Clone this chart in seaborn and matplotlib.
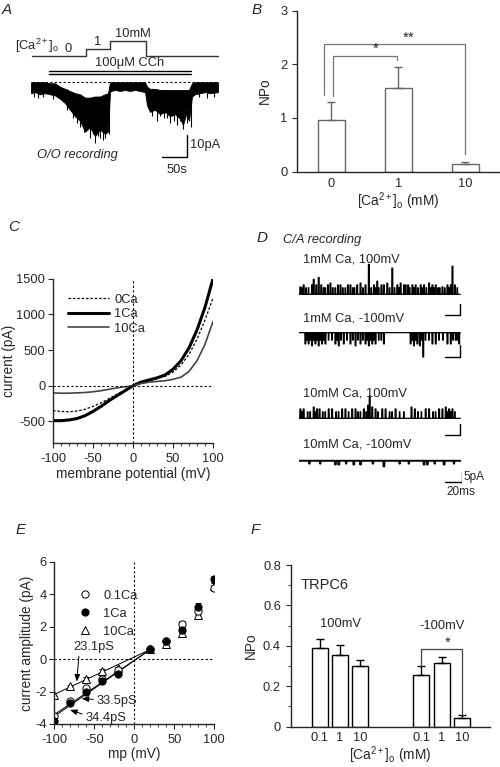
import numpy as np
import pandas as pd
import matplotlib.pyplot as plt
import seaborn as sns
from matplotlib.lines import Line2D

W, H = 500, 767

# ---------- A: O/O recording, Ca steps under carbachol (s, pA) ----------
step_t = [2, 110, 158, 230, 374]
step_lab = ["0", "1", "10mM"]
step_lab_t = [74, 134, 204]
cch_t = [36, 320]
a_t = [0, 8, 18, 28, 38, 48, 58, 68, 78, 88, 98, 108, 118, 128, 138, 148, 154,
       158, 160, 168, 178, 188, 198, 208, 218, 228, 232, 238, 248, 258, 268,
       278, 288, 298, 304, 310, 316, 322, 328, 338, 348, 358, 374]
a_hi = [0.5, 0.5, 0.5, 0.5, 0, 0, -1.5, -2.5, -3.5, -4.5, -5, -6.5, -6.5, -6, -6, -5, -4.5,
        0.5, 0.5, 0.5, 0.5, 0.5, 0.5, 0.5, 0.5, 0.5, -1.5, -2.5, -2.5, -3, -3,
        -3, -3, -3, -3, -3, -3, 0, 0.5, 0.5, 0.5, 0.5, 0.5]
a_lo = [-4.5, -4, -5, -4.5, -5, -5.5, -7, -9, -12, -15, -17, -22, -20, -24, -21, -23, -22,
        -4, -3.5, -3, -3.5, -3, -3.5, -3, -3.5, -4, -10, -13, -12, -14, -13,
        -15, -14, -16, -19, -14, -17, -6, -5, -4.5, -4, -4.5, -4]
# brief downward events sticking out of the band
a_sp_t = [6, 14, 24, 44, 71, 84, 91, 98, 105, 112, 118, 123, 128, 133, 138, 143, 148, 155,
          241, 251, 258, 265, 272, 278, 285, 291, 297, 303, 311, 319, 336, 352, 366]
a_sp = [-6, -6.5, -6, -7, -12, -16, -18, -20, -22, -21, -25, -23, -27, -24, -25, -26, -25, -23,
        -15, -17, -15, -16, -16, -18, -17, -19, -17, -21, -18, -20, -6, -6.5, -6]

# ---------- B: NPo vs [Ca]o ----------
b_ca = ["0", "1", "10"]
b_npo = [0.97, 1.55, 0.14]
b_sem = [0.32, 0.40, 0.035]

# ---------- C: whole-cell I-V ----------
c_mv = [-100, -90, -80, -70, -60, -50, -40, -30, -20, -10, 0,
        10, 20, 30, 40, 50, 60, 70, 80, 90, 100]
c_0ca = [-350, -360, -365, -355, -330, -290, -240, -180, -120, -60, 0,
         40, 70, 100, 130, 190, 290, 440, 650, 920, 1230]
c_1ca = [-490, -490, -480, -460, -420, -360, -290, -210, -140, -70, 0,
         50, 80, 110, 150, 230, 350, 530, 780, 1100, 1500]
c_10ca = [-100, -105, -105, -100, -95, -85, -70, -50, -30, -15, 0,
          30, 50, 60, 70, 90, 120, 200, 350, 580, 900]

# ---------- D: single channel openings (onset ms, amplitude pA) ----------
d_labels = ["1mM Ca, 100mV", "1mM Ca, -100mV", "10mM Ca, 100mV", "10mM Ca, -100mV"]
d_small = [3.5, -4, 3.5, -1.5]    # amplitude of the brief, partly resolved openings
d1_on = [1, 5, 15, 17, 20, 23, 26, 34, 37, 46, 49, 58, 61, 69, 73, 79, 83, 89, 93, 98,
         101, 105, 111, 117, 121, 125, 127, 130, 135, 139, 145, 149, 155, 159, 163,
         171, 177, 181, 183, 186]
d1_amp = [4, 5, 5, 8, 5, 9, 5, 5, 6, 5, 5, 5, 5, 5, 6, 5, 16, 5, 7, 5,
          5, 6, 14, 5, 6, 5, 5, 5, 5, 5, 5, 5, 6, 5, 5,
          4, 5, 5, 15, 5]
d1_more = [3, 8, 11, 29, 31, 40, 43, 52, 55, 64, 66, 76, 86, 91, 95, 108, 114, 119,
           132, 137, 142, 147, 152, 157, 161, 166, 168, 174, 179, 189]
d2_on = [7, 11, 15, 19, 23, 27, 31, 43, 47, 53, 61, 67, 73, 79, 83, 87, 91, 101,
         133, 137, 141, 144, 148, 159, 163, 177, 181, 191]
d2_amp = [-6, -6, -7, -6, -7, -6, -6, -6, -7, -6, -6, -7, -6, -6, -7, -6, -6, -6,
          -6, -7, -6, -7, -13, -6, -6, -6, -6, -6]
d2_more = [9, 13, 17, 21, 25, 29, 35, 39, 45, 50, 57, 64, 70, 76, 81, 85, 89, 95, 98,
           135, 139, 146, 151, 155, 167, 172, 184, 187, 189]
d3_on = [1, 5, 17, 21, 24, 35, 39, 51, 55, 63, 67, 77, 82, 84, 87, 91, 99, 103, 115,
         134, 138, 151, 155, 167, 171, 175, 179, 183]
d3_amp = [5, 5, 6, 5, 5, 5, 5, 5, 5, 5, 5, 5, 7, 12, 6, 5, 5, 5, 5,
          6, 5, 5, 5, 5, 5, 6, 5, 5]
d3_more = [3, 10, 13, 19, 28, 31, 44, 47, 59, 70, 73, 80, 94, 108, 111, 120, 125,
           142, 146, 160, 163, 177, 181, 186]
d4_on = [43, 47, 65, 73, 101, 149, 153, 173]
d4_amp = [-2, -2, -2, -2, -3, -2, -2, -2]
d4_more = [12, 25, 56, 88, 120, 131, 162, 185]

# ---------- E: single channel I-V ----------
e_mv = [-100, -80, -60, -40, -20, 20, 40, 60, 80, 100]
e_01ca = [-3.5, -2.6, -1.8, -1.2, -0.65, 0.6, 1.15, 2.15, 2.95, 4.4]
e_1ca = [-3.8, -2.7, -2.05, -1.35, -0.9, 0.6, 1.15, 1.8, 3.25, 4.95]
e_10ca = [-2.2, -1.65, -1.2, -0.7, -0.55, 0.6, 0.95, 1.6, 2.75, 4.5]
e_sem = [0.1, 0.08, 0.1, 0.08, 0.08, 0.08, 0.1, 0.2, 0.25, 0.2]
e_g = {"0.1Ca": 33.5, "1Ca": 34.4, "10Ca": 23.1}   # pS

# ---------- F: TRPC6 NPo ----------
f_mp = ["100mV"] * 3 + ["-100mV"] * 3
f_ca = ["0.1", "1", "10"] * 2
f_npo = [0.39, 0.355, 0.30, 0.255, 0.315, 0.045]
f_sem = [0.045, 0.05, 0.03, 0.045, 0.03, 0.012]

# ---------------------------------------------------------------
sns.set_style("ticks")
plt.rcParams["font.family"] = ["Liberation Sans", "DejaVu Sans"]
plt.rcParams["mathtext.fontset"] = "custom"
plt.rcParams["mathtext.rm"] = "Liberation Sans"
plt.rcParams["mathtext.it"] = "Liberation Sans:italic"
plt.rcParams["mathtext.default"] = "regular"
plt.rcParams["axes.unicode_minus"] = False
plt.rcParams["font.size"] = 9.3
plt.rcParams["axes.linewidth"] = 1
plt.rcParams["xtick.major.size"] = 3.5
plt.rcParams["ytick.major.size"] = 3.5
plt.rcParams["xtick.minor.size"] = 2.5
plt.rcParams["xtick.labelsize"] = 9.3
plt.rcParams["ytick.labelsize"] = 9.3
LAB = 9.8

fig = plt.figure(figsize=(5, 7.67), dpi=100)


def px_axes(l, t, r, b):
    return fig.add_axes([l / W, 1 - b / H, (r - l) / W, (b - t) / H])


def letter(x, y, s):
    fig.text(x / W, 1 - y / H, s, fontsize=11, style="italic", va="center")


ca_lab = r"[Ca$^{2+}$]$_o$ (mM)"
dot = (0, (2, 2))

# ---------------- A ----------------
ax = px_axes(0, 20, 250, 175)
ax.set_xlim(-62, 438)
ax.set_ylim(-41.7, 28.8)
ax.axis("off")
lev = [12.4, 15.6, 19.2, 12.4]
ax.plot(step_t, lev + [12.4], drawstyle="steps-post", color="#333", lw=1)
ax.text(12, 17.0, r"[Ca$^{2+}$]$_o$", ha="center", va="center")
for i, s in enumerate(step_lab):
    ax.text(step_lab_t[i], lev[i] + 0.6, s, ha="center", va="bottom")
ax.plot(cch_t, [5.6, 5.6], color="k", lw=1)
ax.plot(cch_t, [4.2, 4.2], color="k", lw=1)
ax.text(198, 6.6, "100\u03bcM CCh", ha="center", va="bottom")
ax.plot([step_t[0], step_t[-1]], [0.8, 0.8], color="k", lw=0.8, ls=dot)
ax.fill_between(a_t, a_lo, a_hi, color="k", lw=0.6)
ax.vlines(a_sp_t, np.interp(a_sp_t, a_t, a_hi), a_sp, color="k", lw=0.8)
ax.plot([262, 312, 312], [-33.5, -33.5, -23.5], color="k", lw=1)
ax.text(318, -28, "10pA", va="center")
ax.text(272, -36.5, "50s", va="top")
ax.text(12, -32.6, "O/O recording", style="italic", va="center")
letter(2, 10, "A")

# ---------------- B ----------------
ax = px_axes(297, 10.7, 500, 171.5)
sns.barplot(x=b_ca, y=b_npo, color="white", edgecolor="#666", linewidth=1,
            width=0.4, errorbar=None, ax=ax)
bx = sorted(p.get_x() + p.get_width() / 2 for p in ax.patches)
ax.errorbar(bx, b_npo, yerr=[[0] * 3, b_sem], fmt="none", ecolor="#666",
            elinewidth=1, capsize=3)
ax.set_xlim(-0.51, 2.52)
ax.set_ylim(0, 3)
ax.set_yticks([0, 1, 2, 3])
ax.tick_params(axis="x", length=0, pad=5)
ax.set_ylabel("NPo", fontsize=LAB, labelpad=6)
ax.set_xlabel(ca_lab, fontsize=LAB, labelpad=0)
sns.despine(ax=ax)
gc = "#777"
ax.plot([-0.1, -0.1, 2.0, 2.0], [1.43, 2.38, 2.38, 0.32], color=gc, lw=0.9)
ax.plot([0.03, 0.03, 0.99, 0.99], [1.40, 2.16, 2.16, 2.08], color=gc, lw=0.9)
ax.text(0.66, 2.15, "*", ha="center", va="bottom", fontsize=11)
ax.text(1.16, 2.37, "**", ha="center", va="bottom", fontsize=11)
letter(252, 10, "B")

# ---------------- C ----------------
ax = px_axes(53, 278.7, 213, 442.8)
ax.plot(c_mv, c_0ca, color="k", lw=0.9, ls=(0, (2, 1.5)), label="0Ca")
ax.plot(c_mv, c_1ca, color="k", lw=2.2, label="1Ca")
ax.plot(c_mv, c_10ca, color="#444", lw=1.2, label="10Ca")
ax.axhline(0, color="k", lw=0.8, ls=dot)
ax.axvline(0, color="k", lw=0.8, ls=dot)
ax.set_xlim(-100, 100)
ax.set_ylim(-800, 1500)
ax.set_xticks([-100, -50, 0, 50, 100])
ax.set_xticks(range(-90, 100, 10), minor=True)
ax.set_yticks([-500, 0, 500, 1000, 1500])
ax.tick_params(axis="y", pad=2)
ax.set_xlabel("membrane potential (mV)", fontsize=LAB, labelpad=2)
ax.set_ylabel("current (pA)", fontsize=LAB, labelpad=0)
ax.legend(loc="upper left", bbox_to_anchor=(0.02, 0.98), frameon=False,
          handlelength=3.2, handletextpad=0.4, labelspacing=0.2)
sns.despine(ax=ax)
letter(8, 227, "C")

# ---------------- D ----------------
ax = px_axes(299, 250, 462, 495)
ax.set_xlim(0, 195)
ax.set_ylim(-131, 0)
ax.axis("off")
tt = np.linspace(0, 193, 4000)
base = [-23.7, -44.2, -90.0, -112.7]
sweeps = [(d1_on, d1_amp, d1_more), (d2_on, d2_amp, d2_more),
          (d3_on, d3_amp, d3_more), (d4_on, d4_amp, d4_more)]
for k, (on, amp, more) in enumerate(sweeps):
    sig = np.zeros_like(tt)
    for o in more:
        sig = np.where((tt >= o) & (tt < o + 0.7), d_small[k], sig)
    for o, a in zip(on, amp):
        sig = np.where((tt >= o) & (tt < o + 1.1), a, sig)
    ax.plot(tt, base[k] + sig, color="k", lw=1.4 if k == 3 else 0.9)
    ax.text(5, base[k] + [18.5, 7.5, 13.5, 8.5][k], d_labels[k], va="center")
for y0 in [-35, -57, -99]:
    ax.plot([175, 193, 193], [y0, y0, y0 + 6], color="k", lw=1)
ax.plot([175, 195, 195], [-123.9, -123.9, -118.9], color="k", lw=1)
ax.text(197, -121.4, "5pA", va="center", fontsize=8.5)
ax.text(176, -126, "20ms", va="top", fontsize=8.5)
ax.text(-19, 5.5, "C/A recording", style="italic", va="center", clip_on=False)
letter(257, 238, "D")

# ---------------- E ----------------
ax = px_axes(54.3, 562, 214.3, 724)
ax.axhline(0, color="k", lw=0.8, ls=dot)
ax.axvline(0, color="k", lw=0.8, ls=dot)
vv = np.array([-100, 20])
for ys, name in [(e_01ca, "0.1Ca"), (e_1ca, "1Ca"), (e_10ca, "10Ca")]:
    i20 = ys[e_mv.index(20)]
    ax.plot(vv, i20 + e_g[name] * (vv - 20) * 1e-3, color="k", lw=0.7)
styles = {"0.1Ca": ("o", "white"), "1Ca": ("o", "black"), "10Ca": ("^", "white")}
for ys, name in [(e_10ca, "10Ca"), (e_01ca, "0.1Ca"), (e_1ca, "1Ca")]:
    m, fc = styles[name]
    ax.errorbar(e_mv, ys, yerr=e_sem, fmt=m, mfc=fc, mec="k", ms=5.2, mew=0.7,
                ecolor="k", elinewidth=0.7, capsize=2)
hd = [Line2D([], [], ls="", marker=styles[n][0], mfc=styles[n][1], mec="k",
             ms=5.2, mew=0.7) for n in ["0.1Ca", "1Ca", "10Ca"]]
ax.legend(hd, ["0.1Ca", "1Ca", "10Ca"], loc="upper left",
          bbox_to_anchor=(0.08, 0.9), frameon=False, handlelength=1.0,
          handletextpad=0.9, labelspacing=0.45)
arw = dict(arrowstyle="-|>,head_length=0.45,head_width=0.18", color="k", lw=0.7,
           shrinkA=0, shrinkB=0)
ax.annotate("23.1pS", xy=(-72, -1.38), xytext=(-51, 0.76), ha="center", va="center",
            arrowprops=dict(arw, relpos=(0.15, 0)))
ax.annotate("33.5pS", xy=(-65.8, -2.43), xytext=(-21.6, -2.57), ha="center",
            va="center", arrowprops=dict(arw, relpos=(0, 0.6)))
ax.annotate("34.4pS", xy=(-80.4, -3.13), xytext=(-35.6, -3.6), ha="center",
            va="center", arrowprops=dict(arw, relpos=(0, 0.7)))
ax.set_xlim(-100, 100)
ax.set_ylim(-4, 6)
ax.set_xticks([-100, -50, 0, 50, 100])
ax.set_xticks(range(-90, 100, 10), minor=True)
ax.set_yticks([-4, -2, 0, 2, 4, 6])
ax.tick_params(axis="y", pad=2)
ax.set_xlabel("mp (mV)", fontsize=LAB, labelpad=1)
ax.set_ylabel("current amplitude (pA)", fontsize=LAB, labelpad=1)
sns.despine(ax=ax)
letter(16, 530, "E")

# ---------------- F ----------------
ax = px_axes(290.7, 565, 490, 726.7)
df = pd.DataFrame({"mp": f_mp, "ca": f_ca, "npo": f_npo})
sns.barplot(df, x="mp", y="npo", hue="ca", palette=["white"] * 3, edgecolor="k",
            linewidth=1, width=0.6, gap=0.2, errorbar=None, legend=False, ax=ax)
fx = sorted(p.get_x() + p.get_width() / 2 for p in ax.patches if p.get_width() > 0)
ax.errorbar(fx, f_npo, yerr=[[0] * 6, f_sem], fmt="none", ecolor="k",
            elinewidth=1, capsize=3)
ax.set_xlim(-0.485, 1.475)
ax.set_ylim(0, 0.8)
ax.set_xticks(fx)
ax.set_xticklabels(f_ca)
ax.tick_params(axis="x", length=0, pad=4)
ax.set_yticks([0, 0.2, 0.4, 0.6, 0.8])
ax.set_yticklabels(["0", "0.2", "0.4", "0.6", "0.8"])
ax.set_yticks([0.1, 0.3, 0.5, 0.7], minor=True)
ax.tick_params(axis="y", which="minor", length=2.5)
ax.set_xlabel(ca_lab, fontsize=LAB, labelpad=0)
ax.set_ylabel("NPo", fontsize=LAB)
ax.text(-0.39, 0.70, "TRPC6", fontsize=10.5, va="center")
ax.text(0, 0.51, "100mV", ha="center", va="center")
ax.text(1.0, 0.50, "-100mV", ha="center", va="center")
ax.plot([fx[3], fx[3], fx[5], fx[5]], [0.30, 0.385, 0.385, 0.06], color="#444", lw=0.9)
ax.text(1.06, 0.38, "*", ha="center", va="bottom", fontsize=11)
sns.despine(ax=ax)
letter(251, 530, "F")

fig.savefig("out.png", dpi=100)
